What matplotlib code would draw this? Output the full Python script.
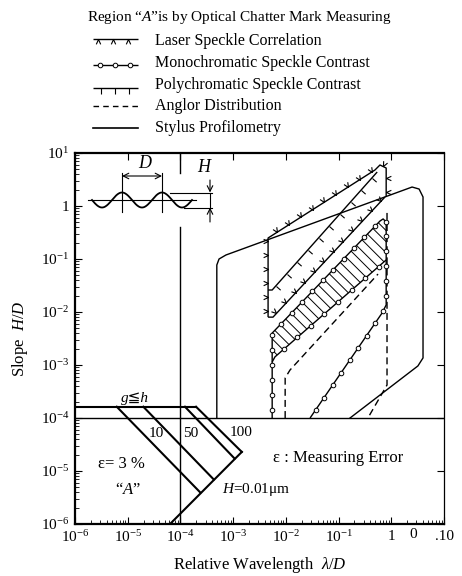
import numpy as np
import matplotlib
matplotlib.use('Agg')
import matplotlib.pyplot as plt
from matplotlib.markers import MarkerStyle
from matplotlib.path import Path
from matplotlib.transforms import Affine2D
from matplotlib.patches import Polygon

plt.rcParams['font.family'] = ['Liberation Serif', 'DejaVu Serif', 'DejaVu Sans']
plt.rcParams['mathtext.fontset'] = 'custom'
plt.rcParams['mathtext.rm'] = 'Liberation Serif'
plt.rcParams['mathtext.it'] = 'Liberation Serif:italic'
plt.rcParams['hatch.linewidth'] = 0.7

# ---- values (data units, log-log axes) ----
xticks = [1e-6, 1e-5, 1e-4, 1e-3, 1e-2, 1e-1, 1, 10]
xticklabels = ['$10^{-6}$', '$10^{-5}$', '$10^{-4}$', '$10^{-3}$', '$10^{-2}$', '$10^{-1}$', '1', '.10']
yticks = [1e-6, 1e-5, 1e-4, 1e-3, 1e-2, 1e-1, 1, 10]
yticklabels = ['$10^{-6}$', '$10^{-5}$', '$10^{-4}$', '$10^{-3}$', '$10^{-2}$', '$10^{-1}$', '1', '$10^{1}$']

# stylus profilometry outline
stylus_x = [4.9e-4, 4.9e-4, 5.4e-4, 7.3e-4, 2.48, 3.37, 4.0, 4.0, 3.2, 0.165]
stylus_y = [1e-4, 0.077, 0.10, 0.119, 2.28, 2.09, 1.48, 1.36e-3, 9.6e-4, 1e-4]
limit_x = 1e-4                      # vertical limit line
limit_y1 = [1e-6, 0.40]
limit_y2 = [4.2, 10]
floor_x = [1e-6, 10]                # horizontal line at H/D = 1e-4
floor_y = [1e-4, 1e-4]

# laser speckle correlation
laser_out_x = [0.0046, 0.0046, 0.49, 0.61, 0.80, 0.80]
laser_out_y = [0.0080, 0.249, 4.78, 5.94, 5.21, 1.48]
laser_in_x = [0.0046, 0.0057, 0.76]
laser_in_y = [0.0080, 0.0080, 1.48]

# polychromatic speckle contrast
poly_x = [0.0046, 0.0055, 0.54]
poly_y = [0.026, 0.026, 4.38]

# monochromatic speckle contrast
mono_x = [0.0055, 0.0055, 0.61, 0.70, 0.80, 0.80, 0.67, 0.0288]
mono_y = [1e-4, 0.0040, 0.52, 0.57, 0.50, 0.0136, 0.0096, 1e-4]
mono_in_x = [0.80, 0.0062, 0.0055]
mono_in_y = [0.096, 0.00142, 0.00114]
hatch_x = [0.0055, 0.61, 0.70, 0.80, 0.80, 0.0062, 0.0055]
hatch_y = [0.0040, 0.52, 0.57, 0.50, 0.096, 0.00142, 0.00136]

# angular distribution (dashed)
ang1_x = [0.0097, 0.0097, 0.012, 0.56]
ang1_y = [1e-4, 5.7e-4, 8.05e-4, 0.052]
ang2_x = [0.83, 0.83, 0.36]
ang2_y = [0.74, 4.2e-4, 1e-4]

# region "A" (optical chatter mark measuring)
regA_top_x = [1e-6, 1.98e-4]
regA_top_y = [1.63e-4, 1.63e-4]
regA_lines_x = [[6.2e-6, 2.4e-4], [1.98e-5, 4.3e-4], [1.22e-4, 1.07e-3], [1.98e-4, 1.46e-3]]
regA_lines_y = [[1.63e-4, 3.9e-6], [1.63e-4, 6.9e-6], [1.63e-4, 1.71e-5], [1.63e-4, 2.29e-5]]
regA_ret_x = [1.46e-3, 6.35e-5]
regA_ret_y = [2.29e-5, 1e-6]

legend_labels = ['Laser Speckle Correlation', 'Monochromatic Speckle Contrast',
                 'Polychromatic Speckle Contrast', 'Anglor Distribution', 'Stylus Profilometry']

CARET = Path([(-0.45, -1.0), (0, 0), (0.45, -1.0)], [Path.MOVETO, Path.LINETO, Path.LINETO])
TICK = Path([(0, 0), (0, 1.0)], [Path.MOVETO, Path.LINETO])


def along(a, xs, ys, step, start):
    P = a.transData.transform(np.column_stack([xs, ys]))
    d = np.diff(P, axis=0)
    L = np.hypot(d[:, 0], d[:, 1])
    cum = np.concatenate([[0], np.cumsum(L)])
    res = []
    s = start
    while s < cum[-1] - 2:
        i = min(np.searchsorted(cum, s, side='right') - 1, len(L) - 1)
        t = (s - cum[i]) / L[i]
        res.append((P[i] + t * d[i], np.degrees(np.arctan2(d[i, 1], d[i, 0]))))
        s += step
    return res


def deco(a, xs, ys, kind, side=1, step=15, start=6, ms=7, lw=1.0):
    a.plot(xs, ys, color='k', lw=lw, solid_capstyle='butt')
    inv = a.transData.inverted()
    for p, ang in along(a, xs, ys, step, start):
        q = inv.transform(p)
        if kind == 'circle':
            a.plot(q[0], q[1], marker='o', ms=3.3, mfc='white', mec='k', mew=0.7,
                   ls='none', zorder=3, clip_on=False)
        else:
            path = CARET if kind == 'caret' else TICK
            m = MarkerStyle(path, transform=Affine2D().scale(1, side).rotate_deg(ang))
            a.plot(q[0], q[1], marker=m, ms=ms, mfc='none', mec='k', mew=0.8,
                   ls='none', clip_on=False)


fig = plt.figure(figsize=(4.62, 5.76), dpi=100)
ax = fig.add_axes([75 / 462, 1 - 524 / 576, 369 / 462, 371 / 576])
ax.set_xscale('log')
ax.set_yscale('log')
ax.set_xlim(1e-6, 10)
ax.set_ylim(1e-6, 10)
ax.set_xticks(xticks, xticklabels, fontsize=11)
ax.set_yticks(yticks, yticklabels, fontsize=11)
ax.tick_params(which='both', direction='in', top=True, right=True, pad=4)
ax.tick_params(which='major', length=5, width=0.8)
ax.tick_params(which='minor', length=3, width=0.6, top=False, right=False)
for side, w in [('left', 1.6), ('bottom', 1.6), ('top', 1.6), ('right', 0.9)]:
    ax.spines[side].set_linewidth(w)
ax.text(2.6, -0.012, '0', transform=ax.get_xaxis_transform(), ha='center', va='top', fontsize=11)

ax.set_xlabel('Relative Wavelength  $\\lambda/D$', fontsize=12, labelpad=7)
ax.set_ylabel('Slope  $H/D$', fontsize=12, labelpad=8)

# stylus profilometry
ax.plot(stylus_x, stylus_y, color='k', lw=1.0)
ax.plot([limit_x, limit_x], limit_y1, color='k', lw=1.0)
ax.plot([limit_x, limit_x], limit_y2, color='k', lw=1.0)
ax.plot(floor_x, floor_y, color='k', lw=1.0)

# monochromatic hatched band
ax.add_patch(Polygon(np.column_stack([hatch_x, hatch_y]), closed=True, fill=False,
                     hatch='\\\\\\', lw=0, edgecolor='k'))
deco(ax, mono_x, mono_y, 'circle', step=15, start=8)
deco(ax, mono_in_x, mono_in_y, 'circle', step=18, start=10)

# laser speckle correlation
deco(ax, laser_out_x, laser_out_y, 'caret', side=-1, step=14, start=6)
deco(ax, laser_in_x, laser_in_y, 'caret', side=-1, step=14, start=10)
# polychromatic
deco(ax, poly_x, poly_y, 'tick', side=-1, step=16, start=10, ms=8)

# angular distribution
ax.plot(ang1_x, ang1_y, color='k', lw=1.0, ls=(0, (5, 3)))
ax.plot(ang2_x, ang2_y, color='k', lw=1.0, ls=(0, (5, 3)))

# region "A"
ax.plot(regA_top_x, regA_top_y, color='k', lw=1.5)
for xs, ys in zip(regA_lines_x, regA_lines_y):
    ax.plot(xs, ys, color='k', lw=1.5)
ax.plot(regA_ret_x, regA_ret_y, color='k', lw=1.5)

ax.text(1.38e-5, 2.38e-4, 'g≦h', ha='center', va='center', fontsize=11, fontstyle='italic')
ax.text(3.44e-5, 5.2e-5, '10', ha='center', va='center', fontsize=11)
ax.text(1.59e-4, 5.2e-5, '50', ha='center', va='center', fontsize=11)
ax.text(1.41e-3, 5.3e-5, '100', ha='center', va='center', fontsize=11)
ax.text(7.5e-6, 1.36e-5, 'ε= 3 %', ha='center', va='center', fontsize=12)
ax.text(1.01e-5, 4.4e-6, '“$A$”', ha='center', va='center', fontsize=12)
ax.text(6.15e-4, 4.5e-6, '$H$=0.01μm', ha='left', va='center', fontsize=11)
ax.text(5.7e-3, 1.76e-5, 'ε : Measuring Error', ha='left', va='center', fontsize=12)

# inset sketch of the surface wave
ins = fig.add_axes([85 / 462, 1 - 226 / 576, 130 / 462, 66 / 576])
ins.set_xlim(85, 215)
ins.set_ylim(226, 160)
ins.axis('off')
xw = np.linspace(92, 192, 200)
ins.plot(xw, 200 - 7.5 * np.cos(2 * np.pi * (xw - 122) / 40), color='k', lw=1.3)
ins.plot([88, 196], [200, 200], color='k', lw=0.8)
for xv in [122, 162]:
    ins.plot([xv, xv], [173, 212], color='k', lw=0.8)
ins.annotate('', xy=(162, 176), xytext=(122, 176),
             arrowprops=dict(arrowstyle='<->', lw=0.8, shrinkA=0, shrinkB=0))
ins.plot([170, 212], [192.5, 192.5], color='k', lw=0.8)
ins.plot([184, 212], [207.5, 207.5], color='k', lw=0.8)
ins.plot([210, 210], [192.5, 207.5], color='k', lw=0.8)
ins.annotate('', xy=(210, 192.5), xytext=(210, 180),
             arrowprops=dict(arrowstyle='->', lw=0.8, shrinkA=0, shrinkB=0))
ins.annotate('', xy=(210, 207.5), xytext=(210, 222),
             arrowprops=dict(arrowstyle='->', lw=0.8, shrinkA=0, shrinkB=0))
ins.text(145, 164, '$D$', ha='center', va='center', fontsize=13)
ins.text(205, 168, '$H$', ha='center', va='center', fontsize=13)

# legend drawn by hand at the top
lg = fig.add_axes([0, 1 - 150 / 576, 1, 150 / 576])
lg.set_xlim(0, 462)
lg.set_ylim(150, 0)
lg.axis('off')
lg.text(87, 18, 'Region “$A$”is by Optical Chatter Mark Measuring', ha='left', va='center', fontsize=11)
rows = [41, 63, 85, 106, 128]
deco(lg, [93, 138], [rows[0] - 2, rows[0] - 2], 'caret', side=1, step=15, start=5)
deco(lg, [93, 138], [rows[1] + 2, rows[1] + 2], 'circle', step=15, start=7)
deco(lg, [93, 138], [rows[2] + 3, rows[2] + 3], 'tick', side=-1, step=14, start=8, ms=8)
lg.plot([93, 138], [rows[3], rows[3]], color='k', lw=1.0, ls=(0, (4, 3)))
lg.plot([93, 138], [rows[4], rows[4]], color='k', lw=1.2)
for r, lab in zip(rows, legend_labels):
    lg.text(155, r, lab, ha='left', va='center', fontsize=11.5)

fig.savefig('out.png', dpi=100)
